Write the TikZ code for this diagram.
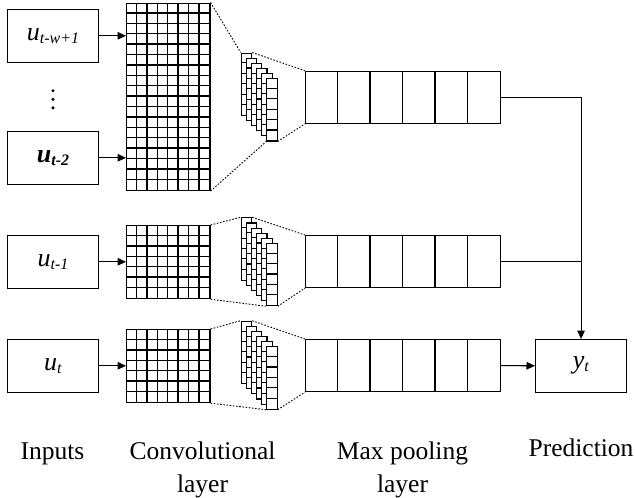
\documentclass[tikz,border=0pt]{standalone}
\usepackage{fontspec}
\setmainfont{Liberation Serif}
\usetikzlibrary{arrows.meta,calc}

\newcommand{\lblsub}[2]{\textit{#1}\raisebox{-3pt}{\fontsize{16}{16}\selectfont\textit{#2}}}
\newcommand{\lblsubbf}[2]{\textbf{\textit{#1}}\raisebox{-3pt}{\fontsize{16}{16}\selectfont\textbf{\textit{#2}}}}

\begin{document}
\begin{tikzpicture}[x=1pt,y=-1pt,
  inbox/.style={draw,line width=1.1pt,fill=white,minimum width=91pt,minimum height=52.5pt,
    inner sep=0pt,anchor=north west,font=\fontsize{26}{30}\selectfont},
  gridbox/.style={draw,line width=1.4pt,fill=white,minimum width=83.2pt,inner sep=0pt,anchor=north west},
  gline/.style={line width=1.4pt},
  colbox/.style={draw,line width=1.1pt,fill=white,minimum width=10.4pt,minimum height=62.4pt,
    inner sep=0pt,anchor=north west},
  cline/.style={line width=1.1pt},
  poolbox/.style={draw,line width=1.1pt,fill=white,minimum width=195pt,minimum height=52pt,
    inner sep=0pt,anchor=north west},
  pline/.style={line width=1.1pt},
  fan/.style={line width=0.9pt,dash pattern=on 1.6pt off 1.6pt},
  conn/.style={line width=1.1pt},
  arr/.style={conn,-{Triangle[length=8.5pt,width=7.5pt]}},
  caption/.style={font=\fontsize{25.5}{33}\selectfont,align=center,anchor=base,inner sep=0pt}]

\useasboundingbox (0,0) rectangle (635,498);

% input boxes
\node[inbox] (in1) at (7,9) {\lblsub{u}{t-w+1}};
\node[inbox] (in2) at (7,131) {\lblsubbf{u}{t-2}};
\node[inbox] (in3) at (7,235) {\lblsub{u}{t-1}};
\node[inbox] (in4) at (7,339) {\lblsub{u}{t}};

% vertical ellipsis between the first two inputs
\foreach \yy in {90.7,99.3,107.9}
  \fill (53,\yy) circle (1.7pt);

% convolutional grids (8 columns, 18 / 7 / 7 rows)
\node[gridbox,minimum height=187.2pt] (g1) at (126,2.5) {};
\node[gridbox,minimum height=72.8pt] (g2) at (126,225) {};
\node[gridbox,minimum height=72.8pt] (g3) at (126,329) {};
\foreach \g/\rows in {g1/18,g2/7,g3/7}{
  \foreach \i in {1,...,7}
    \draw[gline] ($(\g.north west)+(\i*10.4,0)$) -- ($(\g.south west)+(\i*10.4,0)$);
  \pgfmathtruncatemacro{\lastrow}{\rows-1}
  \foreach \j in {1,...,\lastrow}
    \draw[gline] ($(\g.north west)+(0,\j*10.4)$) -- ($(\g.north east)+(0,\j*10.4)$);
}

% feature-map stacks: six offset columns of six cells each
\foreach \s/\top in {s1/52.5,s2/217.3,s3/320.7}{
  \foreach \k in {0,...,5}{
    \node[colbox] (\s c\k) at (240.7+5.1*\k,\top+5.1*\k) {};
    \foreach \j in {1,...,5}
      \draw[cline] ($(\s c\k.north west)+(0,\j*10.4)$) -- ($(\s c\k.north east)+(0,\j*10.4)$);
  }
}

% max pooling rows
\node[poolbox] (p1) at (305,70.7) {};
\node[poolbox] (p2) at (305,235) {};
\node[poolbox] (p3) at (305,339) {};
\foreach \p in {p1,p2,p3}
  \foreach \i in {1,...,5}
    \draw[pline] ($(\p.north west)+(\i*32.5,0)$) -- ($(\p.south west)+(\i*32.5,0)$);

% prediction box
\node[inbox] (yt) at (535,339) {\lblsub{y}{t}};

% receptive-field fans
\foreach \g/\s/\p in {g1/s1/p1,g2/s2/p2,g3/s3/p3}{
  \draw[fan] (\g.north east) -- (\s c0.north west);
  \draw[fan] (\s c0.north east) -- (\p.north west);
  \draw[fan] (\g.south east) -- (\s c5.south west);
  \draw[fan] (\s c5.south east) -- (\p.south west);
}

% inputs into the convolutional layer
\draw[arr] (in1.east) -- (in1.east -| g1.west);
\draw[arr] (in2.east) -- (in2.east -| g1.west);
\draw[arr] (in3.east) -- (g2.west |- in3.east);
\draw[arr] (in4.east) -- (g3.west |- in4.east);

% pooled features into the prediction
\draw[arr] (p1.east) -| (yt.north);
\draw[conn] (p2.east) -- (p2.east -| yt.north);
\draw[arr] (p3.east) -- (yt.west);

% column captions (base anchor of a two-line node sits on its last line)
\node[caption] (capin) at (52.5,459) {Inputs};
\node[caption] (capconv) at (202.5,492) {Convolutional\\layer};
\node[caption] (cappool) at (402.5,492) {Max pooling\\layer};
\node[caption] (cappred) at (581,456) {Prediction};
\end{tikzpicture}
\end{document}
